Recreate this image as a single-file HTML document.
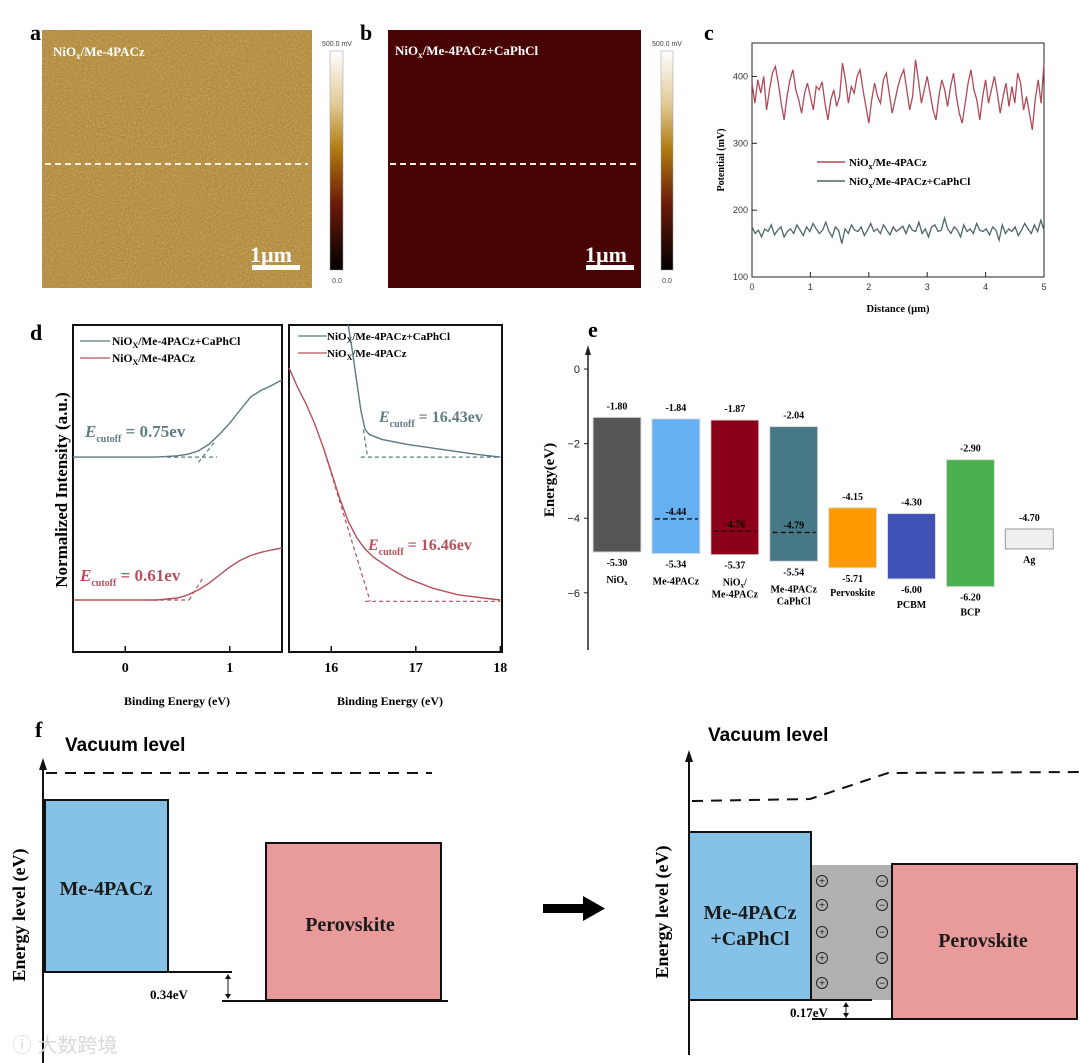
<!DOCTYPE html>
<html><head><meta charset="utf-8"><style>
html,body{margin:0;padding:0;background:#fff;}
svg{display:block;font-family:"Liberation Serif",serif;}
</style></head><body>
<svg id="fig" width="1080" height="1063" viewBox="0 0 1080 1063">
<defs>
<filter id="noiseA" x="0" y="0" width="100%" height="100%">
<feTurbulence type="fractalNoise" baseFrequency="0.6" numOctaves="2" seed="3"/>
<feColorMatrix type="matrix" values="0 0 0 0 1  0 0 0 0 0.95  0 0 0 0 0.8  0 0 0 1.1 -0.45"/>
</filter>
<linearGradient id="cbar" x1="0" y1="0" x2="0" y2="1">
<stop offset="0" stop-color="#ffffff"/><stop offset="0.25" stop-color="#e0c890"/><stop offset="0.45" stop-color="#b07a10"/><stop offset="0.7" stop-color="#6a1a08"/><stop offset="1" stop-color="#000"/>
</linearGradient>
</defs>

<g>
<text x="30" y="40" font-size="22" font-weight="bold">a</text>
<rect x="42" y="30" width="270" height="258" fill="#b38c3e"/>
<rect x="42" y="30" width="270" height="258" filter="url(#noiseA)" opacity="0.55"/>
<line x1="45" y1="164" x2="308" y2="164" stroke="#f4eee0" stroke-width="2" stroke-dasharray="6,4"/>
<text x="53" y="56" font-size="13" font-weight="bold" fill="#fff">NiO<tspan font-size="9" dy="3">x</tspan><tspan dy="-3">/Me-4PACz</tspan></text>
<text x="250" y="262" font-size="22" font-weight="bold" fill="#fff">1µm</text>
<rect x="252" y="265" width="48" height="5" fill="#fff"/>
<rect x="330" y="51" width="13" height="219" fill="url(#cbar)" stroke="#999" stroke-width="0.5"/>
<text x="337" y="46" font-size="7" text-anchor="middle" fill="#444" font-family="Liberation Sans,sans-serif">500.0 mV</text>
<text x="337" y="283" font-size="7" text-anchor="middle" fill="#444" font-family="Liberation Sans,sans-serif">0.0</text>
</g>

<g>
<text x="360" y="40" font-size="22" font-weight="bold">b</text>
<rect x="388" y="30" width="253" height="258" fill="#480303"/>
<line x1="390" y1="164" x2="638" y2="164" stroke="#f4eee0" stroke-width="2" stroke-dasharray="6,4"/>
<text x="395" y="55" font-size="13" font-weight="bold" fill="#fff">NiO<tspan font-size="9" dy="3">x</tspan><tspan dy="-3">/Me-4PACz+CaPhCl</tspan></text>
<text x="585" y="262" font-size="22" font-weight="bold" fill="#fff">1µm</text>
<rect x="586" y="265" width="48" height="5" fill="#fff"/>
<rect x="661" y="51" width="12" height="219" fill="url(#cbar)" stroke="#999" stroke-width="0.5"/>
<text x="667" y="46" font-size="7" text-anchor="middle" fill="#444" font-family="Liberation Sans,sans-serif">500.0 mV</text>
<text x="667" y="283" font-size="7" text-anchor="middle" fill="#444" font-family="Liberation Sans,sans-serif">0.0</text>
</g>

<g id="pc">
<text x="704" y="40" font-size="22" font-weight="bold">c</text>
<rect x="752" y="43" width="292" height="234" fill="none" stroke="#222" stroke-width="1"/>
<text transform="translate(724,160) rotate(-90)" font-size="10" font-weight="bold" text-anchor="middle">Potential (mV)</text>
<text x="898" y="312" font-size="10.5" font-weight="bold" text-anchor="middle">Distance (µm)</text>
<line x1="817" y1="162" x2="845" y2="162" stroke="#b04a58" stroke-width="1.5"/>
<text x="849" y="166" font-size="11" font-weight="bold">NiO<tspan font-size="8" dy="3">x</tspan><tspan dy="-3">/Me-4PACz</tspan></text>
<line x1="817" y1="181" x2="845" y2="181" stroke="#4d6668" stroke-width="1.5"/>
<text x="849" y="185" font-size="11" font-weight="bold">NiO<tspan font-size="8" dy="3">x</tspan><tspan dy="-3">/Me-4PACz+CaPhCl</tspan></text>
</g>

<g id="pd">
<text x="30" y="340" font-size="22" font-weight="bold">d</text>
<rect x="73" y="325" width="209" height="327" fill="none" stroke="#111" stroke-width="2"/>
<rect x="289" y="325" width="213" height="327" fill="none" stroke="#111" stroke-width="2"/>
<text transform="translate(67,490) rotate(-90)" font-size="17" font-weight="bold" text-anchor="middle">Normalized Intensity (a.u.)</text>
<text x="177" y="705" font-size="12" font-weight="bold" text-anchor="middle">Binding Energy (eV)</text>
<text x="390" y="705" font-size="12" font-weight="bold" text-anchor="middle">Binding Energy (eV)</text>
<line x1="80" y1="341" x2="110" y2="341" stroke="#5a7a80" stroke-width="1.2"/>
<text x="112" y="345" font-size="11.5" font-weight="bold">NiO<tspan font-size="8" dy="3">X</tspan><tspan dy="-3">/Me-4PACz+CaPhCl</tspan></text>
<line x1="80" y1="358" x2="110" y2="358" stroke="#b5505c" stroke-width="1.2"/>
<text x="112" y="362" font-size="11.5" font-weight="bold">NiO<tspan font-size="8" dy="3">X</tspan><tspan dy="-3">/Me-4PACz</tspan></text>
<line x1="298" y1="336" x2="327" y2="336" stroke="#5a7a80" stroke-width="1.2"/>
<text x="327" y="340" font-size="11" font-weight="bold">NiO<tspan font-size="8" dy="3">X</tspan><tspan dy="-3">/Me-4PACz+CaPhCl</tspan></text>
<line x1="298" y1="353" x2="327" y2="353" stroke="#b5505c" stroke-width="1.2"/>
<text x="327" y="357" font-size="11" font-weight="bold">NiO<tspan font-size="8" dy="3">X</tspan><tspan dy="-3">/Me-4PACz</tspan></text>
<text x="85" y="437" font-size="17" font-weight="bold" fill="#5f7c80"><tspan font-style="italic">E</tspan><tspan font-size="10" dy="5">cutoff</tspan><tspan dy="-5"> = 0.75ev</tspan></text>
<text x="80" y="581" font-size="17" font-weight="bold" fill="#b5505c"><tspan font-style="italic">E</tspan><tspan font-size="10" dy="5">cutoff</tspan><tspan dy="-5"> = 0.61ev</tspan></text>
<text x="379" y="422" font-size="16" font-weight="bold" fill="#5f7c80"><tspan font-style="italic">E</tspan><tspan font-size="10" dy="5">cutoff</tspan><tspan dy="-5"> = 16.43ev</tspan></text>
<text x="368" y="550" font-size="16" font-weight="bold" fill="#b5505c"><tspan font-style="italic">E</tspan><tspan font-size="10" dy="5">cutoff</tspan><tspan dy="-5"> = 16.46ev</tspan></text>
</g>

<g id="pe">
<text x="588" y="337" font-size="22" font-weight="bold">e</text>
<line x1="588" y1="352" x2="588" y2="650" stroke="#222" stroke-width="1.5"/>
<polygon points="588,345 585,355 591,355" fill="#222"/>
<text transform="translate(554,480) rotate(-90)" font-size="15" font-weight="bold" text-anchor="middle">Energy(eV)</text>
</g>

<g>
<text x="35" y="737" font-size="22" font-weight="bold">f</text>
<text x="65" y="751" font-size="19" font-weight="bold" font-family="Liberation Sans,sans-serif">Vacuum level</text>
<line x1="43" y1="768" x2="43" y2="1063" stroke="#111" stroke-width="2"/>
<polygon points="43,758 39,770 47,770" fill="#111"/>
<text transform="translate(25,915) rotate(-90)" font-size="18" font-weight="bold" text-anchor="middle">Energy level (eV)</text>
<line x1="46" y1="773" x2="432" y2="773" stroke="#111" stroke-width="2" stroke-dasharray="11,8"/>
<rect x="45" y="800" width="123" height="172" fill="#86c2e8" stroke="#111" stroke-width="2"/>
<text x="106" y="895" font-size="20" font-weight="bold" text-anchor="middle" fill="#1a1a1a">Me-4PACz</text>
<line x1="43" y1="972" x2="232" y2="972" stroke="#111" stroke-width="2"/>
<rect x="266" y="843" width="175" height="157" fill="#e99a9b" stroke="#111" stroke-width="2"/>
<text x="350" y="931" font-size="20" font-weight="bold" text-anchor="middle" fill="#1a1a1a">Perovskite</text>
<line x1="222" y1="1001" x2="448" y2="1001" stroke="#111" stroke-width="2"/>
<text x="150" y="999" font-size="13" font-weight="bold">0.34eV</text>
<line x1="228" y1="976" x2="228" y2="997" stroke="#111" stroke-width="1"/>
<polygon points="228,974 225,979 231,979" fill="#111"/><polygon points="228,999 225,994 231,994" fill="#111"/>
<rect x="543" y="904" width="42" height="9" fill="#000"/>
<polygon points="583,896 605,908.5 583,921" fill="#000"/>

<text x="708" y="741" font-size="19" font-weight="bold" font-family="Liberation Sans,sans-serif">Vacuum level</text>
<line x1="689" y1="760" x2="689" y2="1055" stroke="#111" stroke-width="2"/>
<polygon points="689,750 685,762 693,762" fill="#111"/>
<text transform="translate(668,912) rotate(-90)" font-size="18" font-weight="bold" text-anchor="middle">Energy level (eV)</text>
<polyline points="692,801 810,799 888,773 1080,772" fill="none" stroke="#111" stroke-width="2" stroke-dasharray="11,8"/>
<rect x="811" y="865" width="81" height="135" fill="#b0b0b0"/>
<rect x="689" y="832" width="122" height="168" fill="#86c2e8" stroke="#111" stroke-width="2"/>
<text x="750" y="919" font-size="20" font-weight="bold" text-anchor="middle" fill="#1a1a1a">Me-4PACz</text>
<text x="750" y="945" font-size="20" font-weight="bold" text-anchor="middle" fill="#1a1a1a">+CaPhCl</text>
<line x1="689" y1="1000" x2="872" y2="1000" stroke="#111" stroke-width="2"/>
<rect x="892" y="864" width="185" height="155" fill="#e99a9b" stroke="#111" stroke-width="2"/>
<text x="983" y="947" font-size="20" font-weight="bold" text-anchor="middle" fill="#1a1a1a">Perovskite</text>
<line x1="812" y1="1019" x2="892" y2="1019" stroke="#111" stroke-width="2"/>
<text x="790" y="1017" font-size="13" font-weight="bold">0.17eV</text>
<line x1="846" y1="1004" x2="846" y2="1016" stroke="#111" stroke-width="1"/>
<polygon points="846,1002 843,1007 849,1007" fill="#111"/><polygon points="846,1018 843,1013 849,1013" fill="#111"/>
<g id="charges"></g>
<text x="12" y="1052" font-size="20" fill="#d8d8d8" font-family="Liberation Sans,'Noto Sans CJK SC',sans-serif">ⓘ 大数跨境</text>
</g>
</svg>
<script>
const NS='http://www.w3.org/2000/svg';
function mk(tag,attrs,parent){const e=document.createElementNS(NS,tag);for(const k in attrs)e.setAttribute(k,attrs[k]);parent.appendChild(e);return e;}

/* ---------- Panel c data ---------- */
const cTicksX=[0,1,2,3,4,5];
const cTicksY=[100,200,300,400];
const cRed=[390,360,395,375,400,350,380,405,415,390,360,335,370,395,410,380,365,345,375,390,370,350,385,380,392,360,335,365,380,355,370,420,395,360,385,375,400,410,380,355,330,365,390,370,360,395,405,375,345,365,385,400,410,380,350,370,425,395,360,380,400,375,350,335,370,395,380,355,385,405,370,345,330,360,390,410,380,365,335,370,395,360,380,400,375,345,370,390,355,385,360,405,390,350,370,345,320,365,395,360,420];
const cBlue=[175,165,170,160,172,168,178,163,170,175,160,168,172,165,178,170,162,175,168,180,172,165,170,182,168,160,175,170,150,172,165,178,170,168,175,162,170,180,168,172,165,178,170,163,175,168,172,176,165,178,170,168,182,165,172,160,175,178,168,170,188,172,165,175,170,160,178,168,172,165,180,170,168,172,163,175,170,155,178,165,172,168,175,162,170,180,172,165,178,168,185,170];
const cx=v=>752+v*292/5, cy=v=>277-(v-100)*234/350;
const pc=document.getElementById('pc');
cTicksX.forEach(t=>{
  const l=mk('line',{x1:cx(t),x2:cx(t),y1:277,y2:272,stroke:'#222'},pc);
  
  
  const s=mk('text',{x:cx(t),y:290,'font-size':9,'text-anchor':'middle',fill:'#333','font-family':'Liberation Sans,sans-serif'},pc);s.textContent=t;
  
  
});
cTicksY.forEach(t=>{
  const l=mk('line',{x1:752,x2:757,y1:cy(t),y2:cy(t),stroke:'#222'},pc);
  
  
  const s=mk('text',{x:748,y:cy(t)+3,'font-size':9,'text-anchor':'end',fill:'#333','font-family':'Liberation Sans,sans-serif'},pc);s.textContent=t;
  
  
});
function trace(arr,col,name){
  const pts=arr.map((v,i)=>cx(i*5/(arr.length-1)).toFixed(1)+','+cy(v).toFixed(1)).join(' ');
  const p=mk('polyline',{points:pts,fill:'none',stroke:col,'stroke-width':1.3},pc);
  
  
}
trace(cRed,'#b04a58','series-red-c');
trace(cBlue,'#4d6668','series-blue-c');

/* ---------- Panel d data ---------- */
const dLeftTicks=[0,1];
const dRightTicks=[16,17,18];
const dLX=[-0.5,0.3,0.5,0.6,0.7,0.8,0.9,1.0,1.1,1.2,1.3,1.4,1.5];
const dLBlue=[0.596,0.596,0.6,0.605,0.615,0.635,0.665,0.70,0.74,0.78,0.80,0.815,0.832];
const dLRed=[0.159,0.159,0.165,0.175,0.19,0.21,0.235,0.26,0.28,0.295,0.305,0.312,0.318];
const dRRedX=[15.5,15.6,15.7,15.8,15.9,16.0,16.1,16.2,16.3,16.4,16.5,16.7,16.9,17.2,17.5,17.8,18.0];
const dRRed=[0.869,0.81,0.76,0.70,0.63,0.55,0.47,0.40,0.35,0.315,0.29,0.255,0.225,0.195,0.175,0.165,0.159];
const dRBlueX=[16.2,16.25,16.3,16.35,16.4,16.45,16.6,16.9,17.3,17.7,18.0];
const dRBlue=[1.0,0.92,0.83,0.74,0.68,0.665,0.65,0.635,0.62,0.605,0.596];
const dCutoffs=[0.75,0.61,16.43,16.46];
const dlx=v=>73+(v+0.5)*209/2, drx=v=>289+(v-15.5)*213/2.52, dy=v=>652-v*327;
const pd=document.getElementById('pd');
dLeftTicks.forEach(t=>{
  mk('line',{x1:dlx(t),x2:dlx(t),y1:652,y2:646,stroke:'#111','stroke-width':1.5},pd);
  const s=mk('text',{x:dlx(t),y:672,'font-size':14,'font-weight':'bold','text-anchor':'middle'},pd);s.textContent=t;
  
  
});
dRightTicks.forEach(t=>{
  mk('line',{x1:drx(t),x2:drx(t),y1:652,y2:646,stroke:'#111','stroke-width':1.5},pd);
  const s=mk('text',{x:drx(t),y:672,'font-size':14,'font-weight':'bold','text-anchor':'middle'},pd);s.textContent=t;
  
  
});
function dline(xs,ys,fx,col,name){
  const pts=xs.map((x,i)=>fx(x).toFixed(1)+','+dy(ys[i]).toFixed(1)).join(' ');
  const p=mk('polyline',{points:pts,fill:'none',stroke:col,'stroke-width':1.4},pd);
  
  
}
dline(dLX,dLBlue,dlx,'#5a7a80','series-blue-d-left');
dline(dLX,dLRed,dlx,'#b5505c','series-red-d-left');
dline(dRRedX,dRRed,drx,'#b5505c','series-red-d-right');
dline(dRBlueX,dRBlue,drx,'#5a7a80','series-blue-d-right');
function dash(x1,y1,x2,y2,col){mk('line',{x1:x1,y1:y1,x2:x2,y2:y2,stroke:col,'stroke-width':1.2,'stroke-dasharray':'4,3'},pd);}
dash(dlx(0.4),dy(0.596),dlx(0.88),dy(0.596),'#5a7a80');
dash(dlx(dCutoffs[0]-0.05),dy(0.58),dlx(0.85),dy(0.64),'#5a7a80');
dash(dlx(0.2),dy(0.159),dlx(dCutoffs[1]),dy(0.159),'#b5505c');
dash(dlx(dCutoffs[1]),dy(0.159),dlx(0.75),dy(0.23),'#b5505c');
dash(drx(16.35),dy(0.596),drx(18),dy(0.596),'#5a7a80');
dash(drx(16.38),dy(0.68),drx(dCutoffs[2]),dy(0.596),'#5a7a80');
dash(drx(15.9),dy(0.63),drx(dCutoffs[3]),dy(0.155),'#b5505c');
dash(drx(16.4),dy(0.155),drx(18),dy(0.155),'#b5505c');

/* ---------- Panel e data ---------- */
const eNames=[['NiOx'],['Me-4PACz'],['NiOx/','Me-4PACz'],['Me-4PACz','CaPhCl'],['Pervoskite'],['PCBM'],['BCP'],['Ag']];
const eTop=[-1.80,-1.84,-1.87,-2.04,-4.15,-4.30,-2.90,-4.70];
const eBottom=[-5.30,-5.34,-5.37,-5.54,-5.71,-6.00,-6.20,null];
const eMid=[null,-4.44,-4.76,-4.79,null,null,null,null];
const eColors=['#555555','#64b0f0','#8b0018','#467885','#ff9a00','#3f51b5','#4caf50','#efefef'];
const eTicks=[0,-2,-4,-6];
const eAxisY=v=>369-37.3*v;
const eBarY=v=>348+38.5*(-v);
const eBarX=i=>593+i*58.9;
const pe=document.getElementById('pe');
eTicks.forEach(t=>{
  mk('line',{x1:584,x2:588,y1:eAxisY(t),y2:eAxisY(t),stroke:'#222'},pe);
  const s=mk('text',{x:580,y:eAxisY(t)+4,'font-size':11,'text-anchor':'end',fill:'#222','font-family':'Liberation Sans,sans-serif'},pe);
  s.textContent=t===0?'0':'\u2212'+Math.abs(t);
  
  
});
eTop.forEach((top,i)=>{
  const y1=eBarY(top), y2=i===7?eBarY(-4.7)+20:eBarY(eBottom[i]);
  const x=eBarX(i);
  const r=mk('rect',{x:x,y:y1,width:48,height:y2-y1,fill:eColors[i],stroke:i===7?'#999':'#ddd','stroke-width':1},pe);
  
  
  const cxm=x+24;
  const tl=mk('text',{x:cxm,y:y1-8,'font-size':10,'font-weight':'bold','text-anchor':'middle'},pe);tl.textContent=top.toFixed(2);
  
  
  let ny=y2+14;
  if(eBottom[i]!==null){
    const bl=mk('text',{x:cxm,y:y2+14,'font-size':10,'font-weight':'bold','text-anchor':'middle'},pe);bl.textContent=eBottom[i].toFixed(2);
    
    
    ny=(i>=5)?y2+29:y2+31;
  }
  if(i===4) ny=y2+28;
  eNames[i].forEach((n,k)=>{
    const t=mk('text',{x:cxm,y:ny+k*12,'font-size':10,'font-weight':'bold','text-anchor':'middle'},pe);
    if(n==='NiOx'){t.textContent='NiO';const ts=mk('tspan',{'font-size':7,dy:2},t);ts.textContent='x';}
    else if(n==='NiOx/'){t.textContent='NiO';const ts=mk('tspan',{'font-size':7,dy:2},t);ts.textContent='x';const t2=mk('tspan',{dy:-2},t);t2.textContent='/';}
    else t.textContent=n;
    
    
  });
  if(eMid[i]!==null){
    const ym=eBarY(eMid[i]);
    mk('line',{x1:x+3,x2:x+46,y1:ym,y2:ym,stroke:'#111','stroke-width':1.3,'stroke-dasharray':'5,3'},pe);
    const ml=mk('text',{x:cxm,y:ym-4,'font-size':10,'font-weight':'bold','text-anchor':'middle'},pe);ml.textContent=eMid[i].toFixed(2);
    
    
  }
});

/* ---------- Panel f charges ---------- */
const chargeRows=[881,905,932,958,983];
const cg=document.getElementById('charges');
chargeRows.forEach(y=>{
  [[822,'+'],[882,'\u2212']].forEach(([x,sym])=>{
    const c=mk('circle',{cx:x,cy:y,r:5.5,fill:'none',stroke:'#222','stroke-width':1},cg);
    
    
    const t=mk('text',{x:x,y:y+3.5,'font-size':10,'text-anchor':'middle',fill:'#222','font-family':'Liberation Sans,sans-serif'},cg);t.textContent=sym;
  });
});
</script>
</body></html>
